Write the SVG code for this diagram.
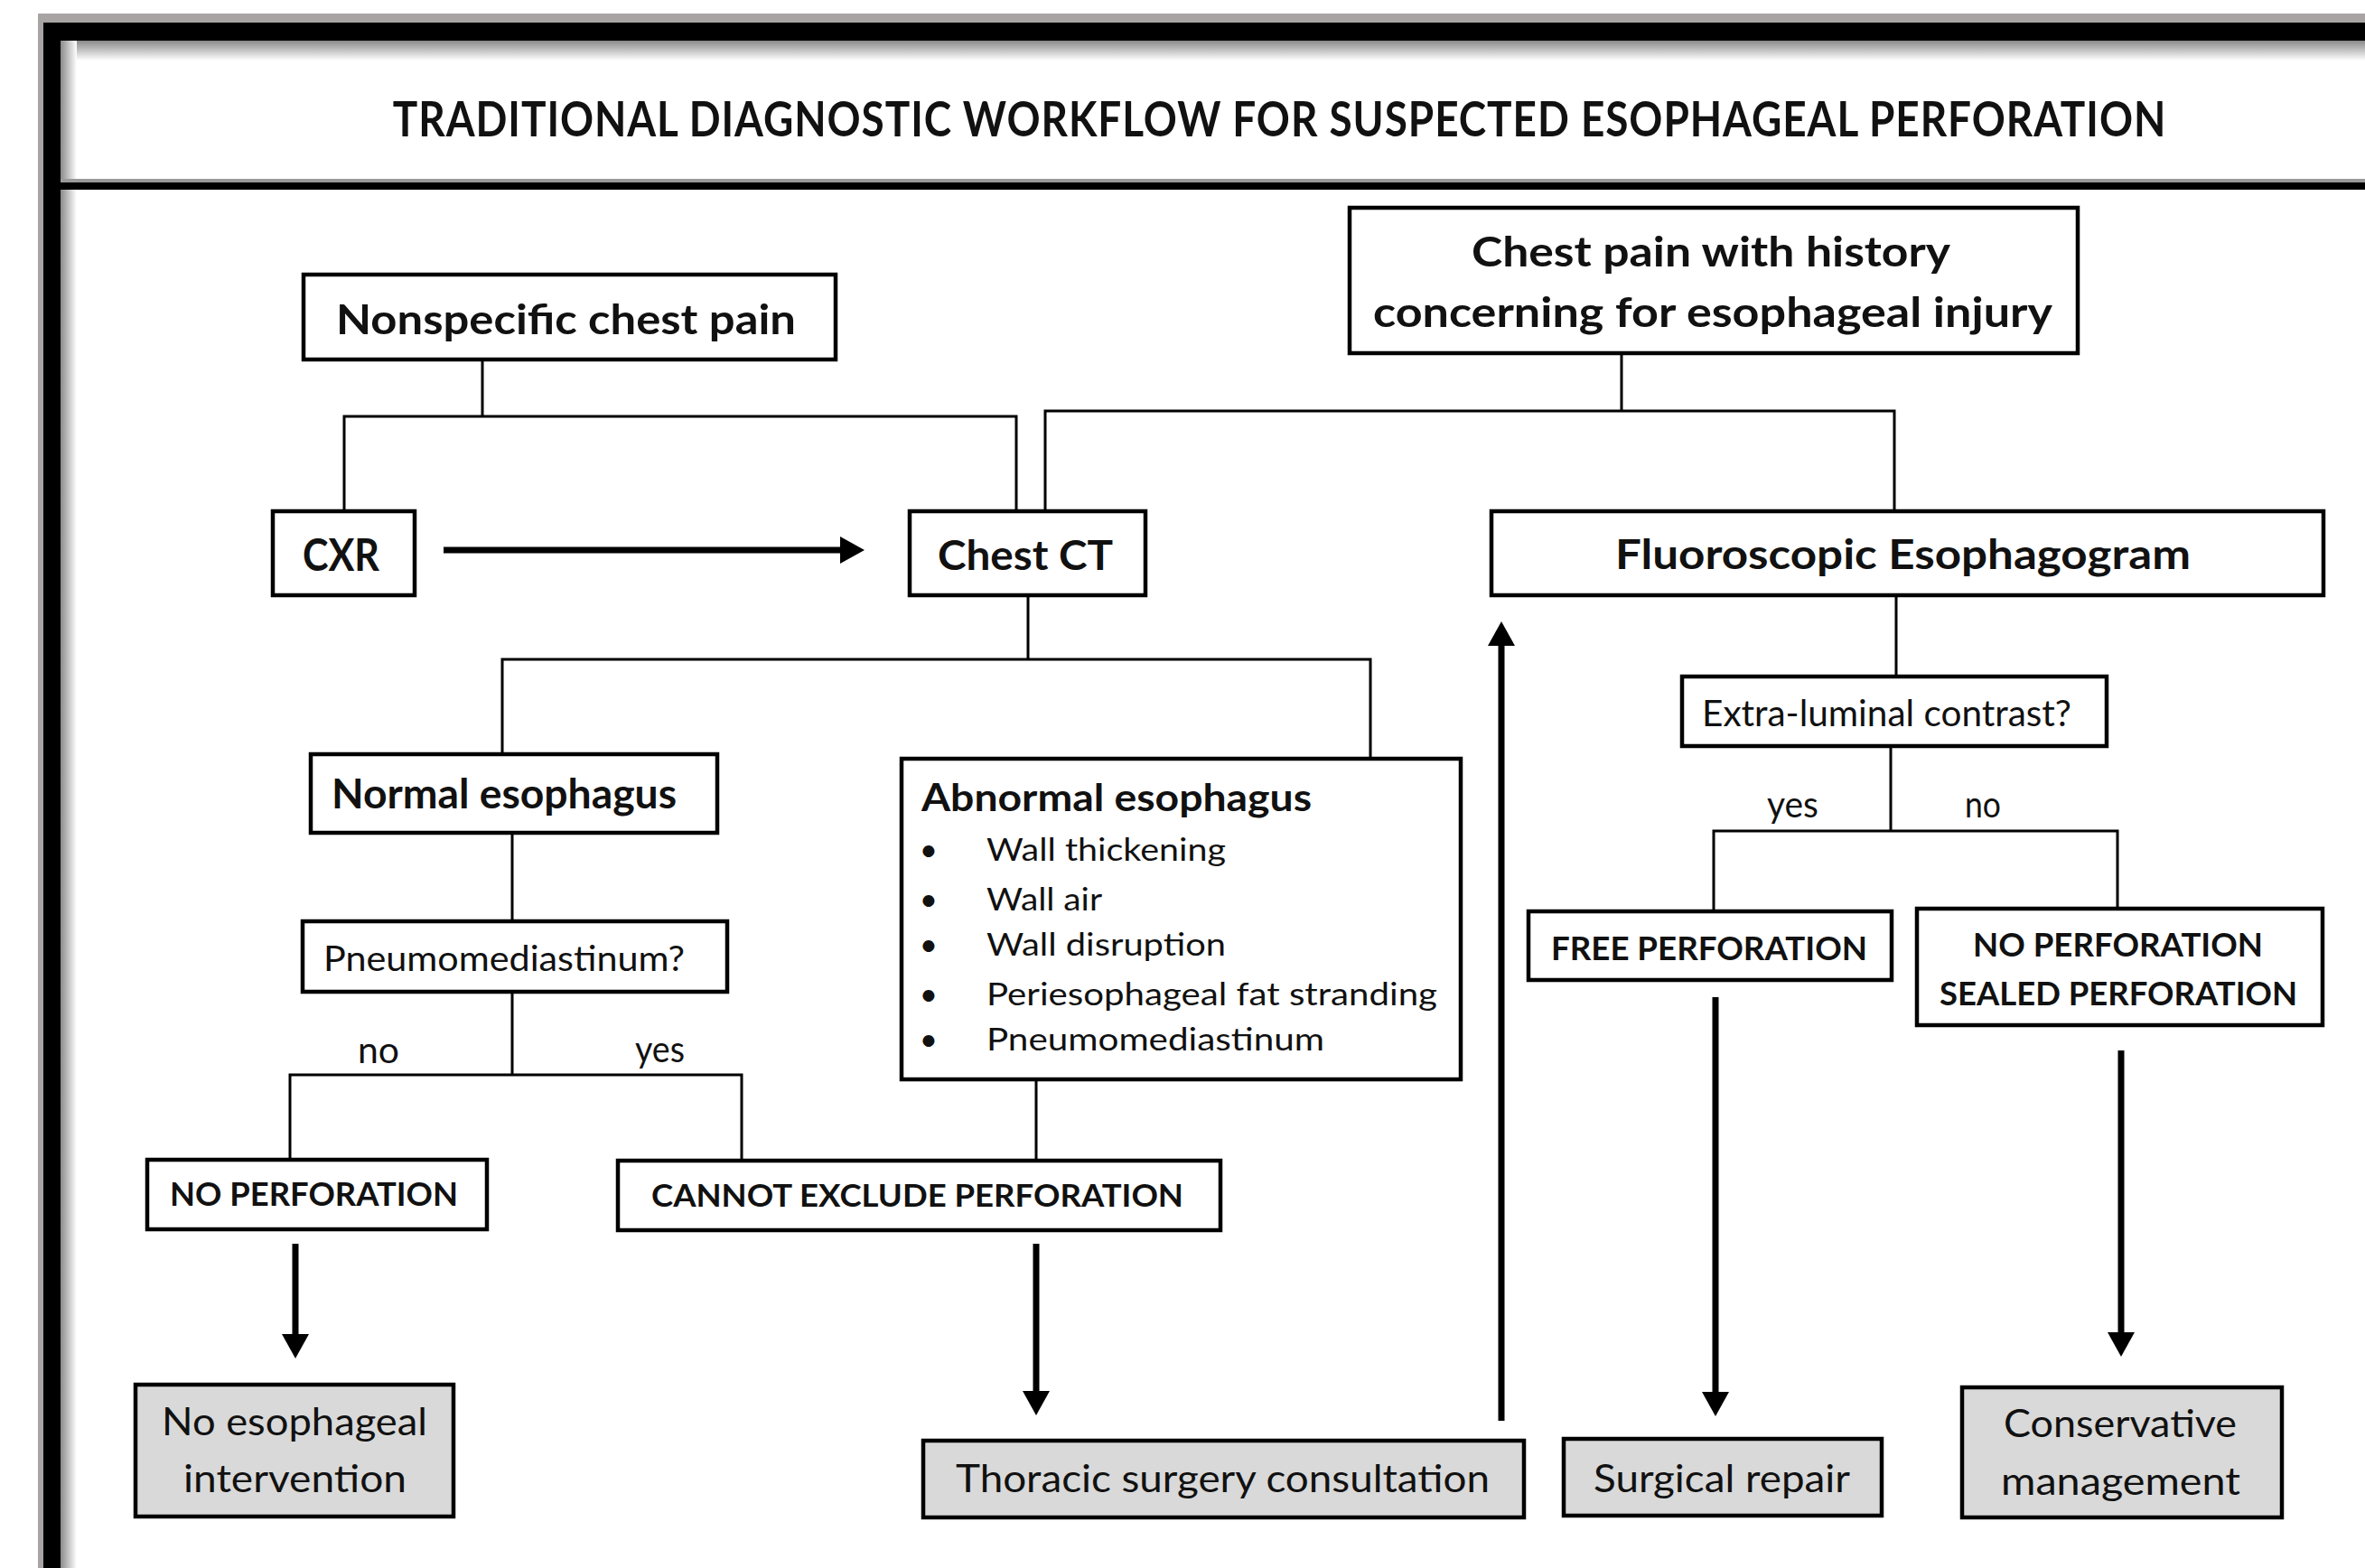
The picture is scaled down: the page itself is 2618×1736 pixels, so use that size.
<svg xmlns="http://www.w3.org/2000/svg" width="2618" height="1736" viewBox="0 0 2618 1736">
<defs>
<style>
.box{fill:#fff;stroke:#000;stroke-width:4.5}
.gbox{fill:#d9d9d9;stroke:#000;stroke-width:4.5}
.conn{fill:none;stroke:#000;stroke-width:3}
.arr{fill:none;stroke:#000;stroke-width:7;marker-end:url(#ah)}
text{font-family:Lato,"Liberation Sans",sans-serif;fill:#111}
.b{font-weight:700}
</style>
<marker id="ah" markerUnits="userSpaceOnUse" markerWidth="28" markerHeight="30" refX="1" refY="15" orient="auto">
<path d="M0,0 L27,15 L0,30 z" fill="#000"/>
</marker>
<linearGradient id="shV" x1="0" y1="0" x2="0" y2="1">
<stop offset="0" stop-color="#8a8a8a"/><stop offset="1" stop-color="#fff"/>
</linearGradient>
<linearGradient id="shH" x1="0" y1="0" x2="1" y2="0">
<stop offset="0" stop-color="#8a8a8a"/><stop offset="1" stop-color="#fff"/>
</linearGradient>
</defs>
<rect width="2618" height="1736" fill="#fff"/>
<g id="frame">
<rect x="42" y="15" width="2576" height="10" fill="#a8a4a4"/>
<rect x="42" y="15" width="6" height="1721" fill="#a8a4a4"/>
<rect x="48" y="25" width="2570" height="20" fill="#000"/>
<rect x="48" y="25" width="19" height="1711" fill="#000"/>
<rect x="67" y="45" width="2551" height="22" fill="url(#shV)"/>
<rect x="67" y="45" width="18" height="1691" fill="url(#shH)"/>
<rect x="67" y="198" width="2551" height="4" fill="#9a9a9a"/>
<rect x="67" y="202" width="2551" height="8" fill="#000"/>
</g>
<g id="title">
<text class="b" transform="translate(1416,151) scale(0.85,1)" x="0" y="0" font-size="54" text-anchor="middle" textLength="2309" lengthAdjust="spacing">TRADITIONAL DIAGNOSTIC WORKFLOW FOR SUSPECTED ESOPHAGEAL PERFORATION</text>
</g>
<g id="connectors">
<path class="conn" d="M534,400 V461 M381,564 V461 H1125 V564"/>
<path class="conn" d="M1795,393 V455 M1157,564 V455 H2097 V564"/>
<path class="conn" d="M1138,661 V730 M556,833 V730 H1517 V838"/>
<path class="conn" d="M567,924 V1018"/>
<path class="conn" d="M567,1100 V1190 M321,1282 V1190 H821 V1283"/>
<path class="conn" d="M1147,1197 V1283"/>
<path class="conn" d="M2099,661 V747"/>
<path class="conn" d="M2093,828 V920 M1897,1007 V920 H2344 V1004"/>
<path class="arr" d="M491,609 H931"/>
<path class="arr" d="M327,1377 V1478"/>
<path class="arr" d="M1147,1377 V1541"/>
<path class="arr" d="M1662,1573 V714"/>
<path class="arr" d="M1899,1104 V1542"/>
<path class="arr" d="M2348,1163 V1476"/>
<text x="396" y="1177" font-size="40" textLength="46" lengthAdjust="spacingAndGlyphs">no</text>
<text x="703" y="1176" font-size="40" textLength="55" lengthAdjust="spacingAndGlyphs">yes</text>
<text x="1956" y="905" font-size="40" textLength="57" lengthAdjust="spacingAndGlyphs">yes</text>
<text x="2175" y="905" font-size="40" textLength="40" lengthAdjust="spacingAndGlyphs">no</text>
</g>
<g id="nonspecific">
<rect class="box" x="336" y="304" width="589" height="94"/>
<text class="b" x="372" y="370" font-size="46" textLength="509" lengthAdjust="spacingAndGlyphs">Nonspecific chest pain</text>
</g>
<g id="history">
<rect class="box" x="1494" y="230" width="806" height="161"/>
<text class="b" x="1629" y="295" font-size="45" textLength="530" lengthAdjust="spacingAndGlyphs">Chest pain with history</text>
<text class="b" x="1520" y="362" font-size="45" textLength="752" lengthAdjust="spacingAndGlyphs">concerning for esophageal injury</text>
</g>
<g id="cxr">
<rect class="box" x="302" y="566" width="157" height="93"/>
<text class="b" x="335" y="632" font-size="49" textLength="85" lengthAdjust="spacingAndGlyphs">CXR</text>
</g>
<g id="chest-ct">
<rect class="box" x="1007" y="566" width="261" height="93"/>
<text class="b" x="1038" y="631" font-size="46" textLength="194" lengthAdjust="spacingAndGlyphs">Chest CT</text>
</g>
<g id="fluoro">
<rect class="box" x="1651" y="566" width="921" height="93"/>
<text class="b" x="1788" y="630" font-size="45" textLength="637" lengthAdjust="spacingAndGlyphs">Fluoroscopic Esophagogram</text>
</g>
<g id="normal">
<rect class="box" x="344" y="835" width="450" height="87"/>
<text class="b" x="367" y="895" font-size="45" textLength="382" lengthAdjust="spacingAndGlyphs">Normal esophagus</text>
</g>
<g id="abnormal">
<rect class="box" x="998" y="840" width="619" height="355"/>
<text class="b" x="1020" y="898" font-size="42" textLength="432" lengthAdjust="spacingAndGlyphs">Abnormal esophagus</text>
<text x="1028" y="953" font-size="35" text-anchor="middle">•</text>
<text x="1028" y="1008" font-size="35" text-anchor="middle">•</text>
<text x="1028" y="1058" font-size="35" text-anchor="middle">•</text>
<text x="1028" y="1113" font-size="35" text-anchor="middle">•</text>
<text x="1028" y="1163" font-size="35" text-anchor="middle">•</text>
<text x="1092" y="953" font-size="35" textLength="265" lengthAdjust="spacingAndGlyphs">Wall thickening</text>
<text x="1092" y="1008" font-size="35" textLength="128" lengthAdjust="spacingAndGlyphs">Wall air</text>
<text x="1092" y="1058" font-size="35" textLength="265" lengthAdjust="spacingAndGlyphs">Wall disruption</text>
<text x="1092" y="1113" font-size="35" textLength="499" lengthAdjust="spacingAndGlyphs">Periesophageal fat stranding</text>
<text x="1092" y="1163" font-size="35" textLength="374" lengthAdjust="spacingAndGlyphs">Pneumomediastinum</text>
</g>
<g id="pneumo">
<rect class="box" x="335" y="1020" width="470" height="78"/>
<text x="358" y="1075" font-size="39" textLength="400" lengthAdjust="spacingAndGlyphs">Pneumomediastinum?</text>
</g>
<g id="extra">
<rect class="box" x="1862" y="749" width="470" height="77"/>
<text x="1884" y="804" font-size="40" textLength="409" lengthAdjust="spacingAndGlyphs">Extra-luminal contrast?</text>
</g>
<g id="free-perf">
<rect class="box" x="1692" y="1009" width="402" height="76"/>
<text class="b" x="1717" y="1063" font-size="36" textLength="350" lengthAdjust="spacingAndGlyphs">FREE PERFORATION</text>
</g>
<g id="sealed-perf">
<rect class="box" x="2122" y="1006" width="449" height="129"/>
<text class="b" x="2184" y="1059" font-size="36" textLength="321" lengthAdjust="spacingAndGlyphs">NO PERFORATION</text>
<text class="b" x="2147" y="1113" font-size="36" textLength="396" lengthAdjust="spacingAndGlyphs">SEALED PERFORATION</text>
</g>
<g id="no-perf">
<rect class="box" x="163" y="1284" width="376" height="77"/>
<text class="b" x="188" y="1335" font-size="36" textLength="319" lengthAdjust="spacingAndGlyphs">NO PERFORATION</text>
</g>
<g id="cannot-exclude">
<rect class="box" x="684" y="1285" width="667" height="77"/>
<text class="b" x="721" y="1336" font-size="35" textLength="589" lengthAdjust="spacingAndGlyphs">CANNOT EXCLUDE PERFORATION</text>
</g>
<g id="no-intervention">
<rect class="gbox" x="150" y="1533" width="352" height="146"/>
<text x="179" y="1589" font-size="43" textLength="294" lengthAdjust="spacingAndGlyphs">No esophageal</text>
<text x="203" y="1652" font-size="43" textLength="247" lengthAdjust="spacingAndGlyphs">intervention</text>
</g>
<g id="thoracic">
<rect class="gbox" x="1022" y="1595" width="665" height="85"/>
<text x="1058" y="1652" font-size="43" textLength="591" lengthAdjust="spacingAndGlyphs">Thoracic surgery consultation</text>
</g>
<g id="surgical">
<rect class="gbox" x="1731" y="1593" width="352" height="85"/>
<text x="1764" y="1652" font-size="43" textLength="284" lengthAdjust="spacingAndGlyphs">Surgical repair</text>
</g>
<g id="conservative">
<rect class="gbox" x="2172" y="1536" width="354" height="144"/>
<text x="2218" y="1591" font-size="43" textLength="258" lengthAdjust="spacingAndGlyphs">Conservative</text>
<text x="2215" y="1655" font-size="43" textLength="265" lengthAdjust="spacingAndGlyphs">management</text>
</g>
</svg>
